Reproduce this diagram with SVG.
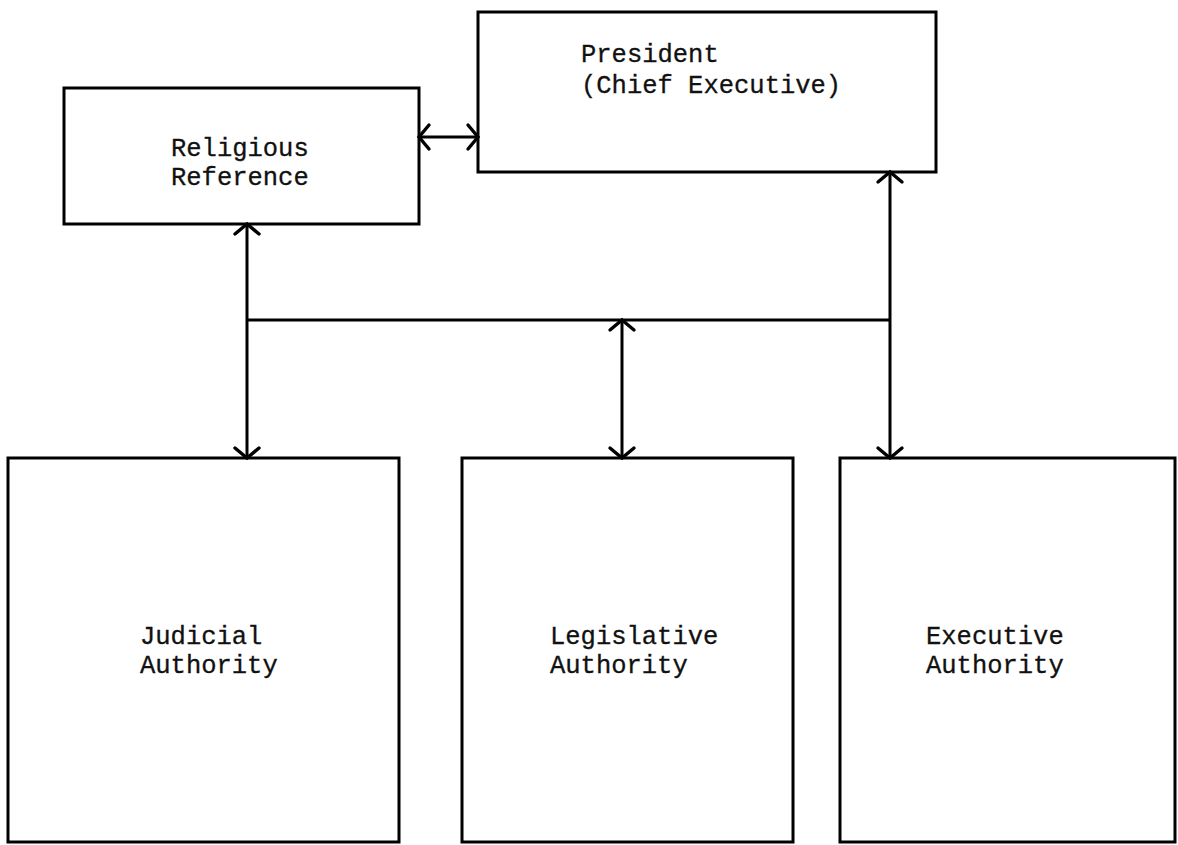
<svg xmlns="http://www.w3.org/2000/svg" width="1178" height="845" viewBox="0 0 1178 845">
  <style>
    .box { fill: none; stroke: #000; stroke-width: 3; stroke-linejoin: miter; }
    .lbl { font-family: "Liberation Mono", "DejaVu Sans Mono", monospace; font-size: 25.5px; fill: #111; stroke: #111; stroke-width: 0.3; }
    .conn { stroke: #000; stroke-width: 3; fill: none; }
  </style>
  <defs>
    <marker id="arr" viewBox="-15 -15 30 30" markerWidth="30" markerHeight="30" refX="0" refY="0" orient="auto-start-reverse" markerUnits="userSpaceOnUse" overflow="visible">
      <path d="M -10,-12 L 0,0 L -10,12" fill="none" stroke="#000" stroke-width="3.4" stroke-linecap="round" stroke-linejoin="miter"/>
    </marker>
  </defs>
  <rect width="1178" height="845" fill="#fff"/>

  <g id="religious">
    <rect class="box" x="64" y="88" width="355" height="136"/>
    <text class="lbl" x="171" y="156">Religious</text>
    <text class="lbl" x="171" y="185">Reference</text>
  </g>
  <g id="president">
    <rect class="box" x="478" y="12" width="458" height="160"/>
    <text class="lbl" x="581" y="62">President</text>
    <text class="lbl" x="581" y="93">(Chief Executive)</text>
  </g>
  <g id="judicial">
    <rect class="box" x="8" y="458" width="391" height="384"/>
    <text class="lbl" x="140" y="644">Judicial</text>
    <text class="lbl" x="140" y="673">Authority</text>
  </g>
  <g id="legislative">
    <rect class="box" x="462" y="458" width="331" height="384"/>
    <text class="lbl" x="550" y="644">Legislative</text>
    <text class="lbl" x="550" y="673">Authority</text>
  </g>
  <g id="executive">
    <rect class="box" x="840" y="458" width="335" height="384"/>
    <text class="lbl" x="926" y="644">Executive</text>
    <text class="lbl" x="926" y="673">Authority</text>
  </g>

  <g id="connectors">
    <line class="conn" x1="419" y1="137" x2="478" y2="137" marker-start="url(#arr)" marker-end="url(#arr)"/>
    <line class="conn" x1="247" y1="224" x2="247" y2="458" marker-start="url(#arr)" marker-end="url(#arr)"/>
    <line class="conn" x1="247" y1="320" x2="890" y2="320"/>
    <line class="conn" x1="890" y1="172" x2="890" y2="458" marker-start="url(#arr)" marker-end="url(#arr)"/>
    <line class="conn" x1="622" y1="320" x2="622" y2="458" marker-start="url(#arr)" marker-end="url(#arr)"/>
  </g>
</svg>
